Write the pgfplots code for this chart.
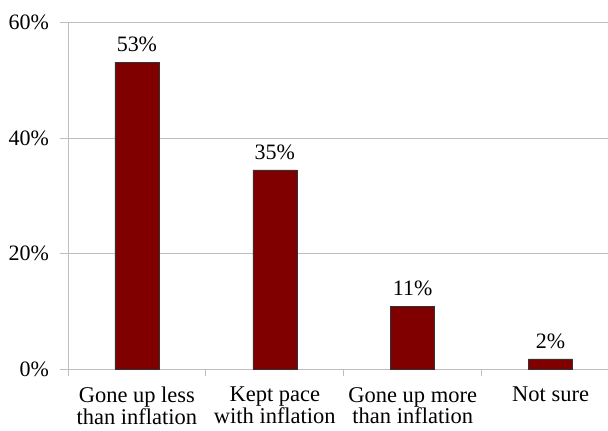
\documentclass[border=0pt]{standalone}
\usepackage{fontspec}
\setmainfont{Liberation Serif}
\usepackage{pgfplots}
\pgfplotsset{compat=1.18}
\definecolor{barred}{HTML}{800000}
\definecolor{gridgray}{HTML}{BEBEBE}
\newcommand\cf{\fontsize{22bp}{20.5bp}\selectfont}
\newcommand\xf{\fontsize{22.5bp}{20.5bp}\selectfont}
\pgfplotstableread{
x y lab
0 53.1 53\%
1 34.5 35\%
2 10.9 11\%
3 1.8 2\%
}\datatab
\begin{document}
\begin{tikzpicture}
\begin{axis}[
  name=ax,
  scale only axis,
  width=540bp, height=347bp,
  xmin=-0.5, xmax=3.413,
  ymin=0, ymax=60,
  axis lines*=left,
  axis line style={gridgray, line width=0.8pt},
  ymajorgrids,
  grid style={gridgray, line width=0.8pt},
  tick style={gridgray, line width=0.8pt},
  tick align=outside,
  major tick length=8bp,
  minor tick length=7bp,
  ytick={0,20,40,60},
  yticklabel={\pgfmathprintnumber{\tick}\%},
  /pgf/number format/assume math mode=true,
  yticklabel style={font=\cf, text=black, xshift=-7.5bp},
  xtick={0,1,2,3},
  xticklabels={{Gone up less\\than inflation},{Kept pace\\with inflation},{Gone up more\\than inflation},{Not sure}},
  xticklabel style={font=\xf, text=black, align=center, anchor=north, yshift=-6.5bp},
  major x tick style={draw=none},
  minor xtick={-0.5,0.5,1.5,2.5},
  ybar, bar width=44bp,
  clip=false,
  nodes near coords,
  point meta=explicit symbolic,
  nodes near coords style={font=\cf, text=black, anchor=south, inner sep=0pt, yshift=10bp},
]
\addplot[fill=barred, draw=black!80, line width=0.6pt] table[x=x, y=y, meta=lab] {\datatab};
\end{axis}
\path[use as bounding box] ([shift={(-68bp,-61.5bp)}]ax.south west) rectangle ([shift={(0bp,22.5bp)}]ax.north east);
\end{tikzpicture}
\end{document}
